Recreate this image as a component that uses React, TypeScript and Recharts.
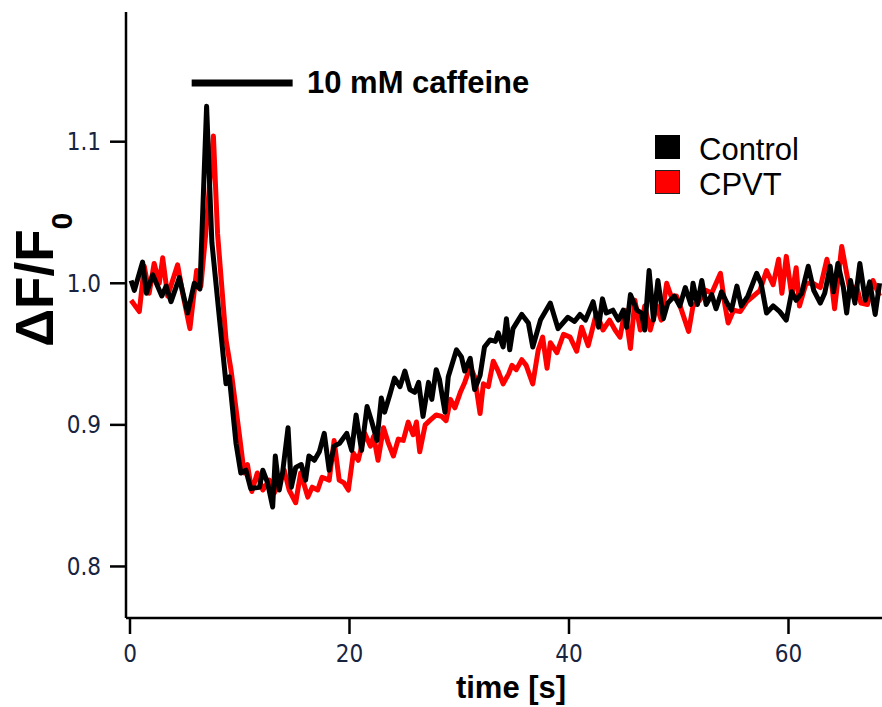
import React from "react";
import { LineChart, Line, XAxis, YAxis, ReferenceLine } from "recharts";

// Control trace (time in s, ΔF/F0)
const controlTime = [
  0.1, 0.4, 1.15, 1.5, 2.07, 2.9, 3.3, 3.74, 4.5, 5.25, 5.86, 6.37, 6.98, 7.46, 8.14, 8.75, 9.05, 9.66,
  10.1, 10.56, 11.0, 11.8, 12.1, 12.54, 13.0, 13.24, 13.6, 13.9, 14.4, 14.7, 15.1, 15.6, 16.0, 16.3,
  16.8, 17.25, 17.7, 18.15, 18.6, 19.1, 19.75, 20.2, 20.6, 21.1, 21.6, 22.0, 22.5, 22.9, 23.2, 23.7,
  24.1, 24.6, 25.05, 25.5, 25.95, 26.3, 26.7, 27.2, 27.5, 27.9, 28.2, 28.7, 29.0, 29.75, 30.2, 30.5,
  31.0, 31.4, 31.9, 32.3, 32.8, 33.3, 33.55, 34.0, 34.3, 34.6, 34.9, 35.7, 36.3, 36.7, 37.4, 38.3,
  39.0, 39.9, 40.5, 41.0, 41.5, 42.2, 42.7, 43.05, 43.4, 44.0, 44.5, 44.95, 45.25, 45.6, 46.2, 46.6,
  46.9, 47.3, 47.7, 48.1, 48.6, 49.0, 49.6, 50.1, 50.6, 51.1, 51.3, 51.7, 52.1, 52.5, 53.0, 53.4,
  53.9, 54.4, 54.8, 55.3, 55.7, 56.3, 57.1, 57.5, 58.0, 58.6, 59.2, 59.8, 60.3, 60.7, 61.2, 61.8,
  62.3, 62.9, 63.3, 63.8, 64.1, 64.5, 65.0, 65.3, 65.65, 66.05, 66.5, 67.0, 67.4, 67.9, 68.3,
];
const controlValue = [
  1.002, 0.995, 1.015, 0.993, 1.006, 0.991, 0.998, 0.987, 1.004, 0.979, 1.0, 0.996, 1.125, 1.029, 0.976, 0.929, 0.934, 0.887,
  0.866, 0.868, 0.855, 0.856, 0.868, 0.859, 0.842, 0.878, 0.854, 0.866, 0.898, 0.856, 0.87, 0.872, 0.861, 0.878,
  0.875, 0.881, 0.894, 0.868, 0.885, 0.887, 0.894, 0.882, 0.907, 0.882, 0.913, 0.903, 0.889, 0.919, 0.909, 0.922,
  0.933, 0.927, 0.938, 0.925, 0.923, 0.93, 0.906, 0.93, 0.918, 0.939, 0.932, 0.909, 0.934, 0.953, 0.948, 0.938,
  0.947, 0.925, 0.935, 0.955, 0.96, 0.959, 0.965, 0.955, 0.975, 0.953, 0.968, 0.978, 0.972, 0.955, 0.974, 0.986,
  0.968, 0.976, 0.973, 0.978, 0.974, 0.987, 0.969, 0.989, 0.979, 0.981, 0.974, 0.981, 0.969, 0.992, 0.981, 0.979,
  0.967, 1.009, 0.974, 1.002, 0.975, 0.986, 0.991, 0.984, 0.997, 0.985, 1.0, 0.985, 1.002, 0.985, 0.992, 0.982,
  0.994, 0.986, 0.981, 0.998, 0.984, 0.991, 1.007, 1.0, 0.979, 0.984, 0.98, 0.974, 0.994, 0.988, 0.993, 1.012,
  0.995, 0.986, 0.993, 1.012, 0.994, 1.014, 0.997, 0.979, 1.002, 0.986, 1.014, 0.988, 1.001, 0.978, 1.0,
];

// CPVT trace
const cpvtTime = [
  0.1, 0.85, 1.3, 1.75, 2.2, 2.67, 2.98, 3.43, 4.34, 4.8, 5.46, 6.07, 6.46, 6.9, 7.6, 7.98, 8.75, 9.2,
  9.95, 10.4, 10.7, 11.1, 11.6, 12.1, 12.7, 13.15, 13.6, 14.05, 14.5, 15.1, 15.55, 16.2, 16.6, 17.1,
  17.5, 18.15, 18.6, 19.06, 19.5, 19.9, 20.35, 20.8, 21.4, 21.9, 22.2, 22.6, 23.1, 23.5, 24.0, 24.45,
  24.9, 25.35, 25.8, 26.1, 26.4, 26.9, 27.3, 27.9, 28.4, 28.8, 29.2, 29.6, 30.1, 30.5, 31.0, 31.4,
  31.9, 32.2, 32.65, 33.1, 33.55, 34.0, 34.5, 34.8, 35.2, 35.7, 36.1, 36.7, 37.2, 37.6, 38.0, 38.3,
  38.9, 39.5, 40.1, 40.7, 41.15, 41.75, 42.5, 43.1, 43.7, 44.2, 44.65, 45.1, 45.6, 46.0, 46.5, 46.9,
  47.4, 48.0, 48.4, 48.9, 49.3, 49.8, 50.25, 50.9, 51.3, 51.9, 52.5, 53.0, 53.8, 54.2, 54.5, 55.0,
  55.6, 56.2, 56.8, 57.4, 58.0, 58.6, 59.1, 59.4, 59.8, 60.3, 60.7, 61.0, 61.6, 62.2, 62.9, 63.5,
  63.9, 64.2, 64.85, 65.3, 65.7, 66.2, 66.6, 67.2, 67.7, 68.3,
];
const cpvtValue = [
  0.988, 0.98, 1.012, 0.993, 1.014, 1.0, 1.018, 0.991, 1.013, 0.993, 0.968, 1.009, 0.998, 1.035, 1.104, 1.035, 0.96, 0.939,
  0.894, 0.866, 0.872, 0.853, 0.866, 0.854, 0.861, 0.852, 0.859, 0.868, 0.854, 0.845, 0.866, 0.849, 0.856, 0.854,
  0.863, 0.861, 0.889, 0.861, 0.859, 0.854, 0.88, 0.875, 0.894, 0.885, 0.892, 0.875, 0.898, 0.888, 0.878, 0.89,
  0.889, 0.902, 0.893, 0.902, 0.881, 0.9, 0.903, 0.907, 0.906, 0.903, 0.918, 0.912, 0.923, 0.93, 0.941, 0.934,
  0.908, 0.929, 0.927, 0.945, 0.938, 0.929, 0.936, 0.942, 0.939, 0.946, 0.942, 0.929, 0.953, 0.962, 0.94, 0.958,
  0.951, 0.964, 0.962, 0.952, 0.969, 0.956, 0.979, 0.967, 0.974, 0.967, 0.962, 0.981, 0.954, 0.988, 0.967, 0.984,
  0.967, 0.984, 0.974, 1.0, 0.991, 0.991, 0.981, 0.966, 0.984, 0.988, 0.995, 0.993, 1.007, 0.985, 0.972, 0.981,
  0.98, 0.987, 0.991, 0.995, 1.009, 0.999, 1.017, 0.993, 1.019, 0.991, 1.011, 0.984, 1.0, 1.0, 0.997, 1.017,
  1.002, 0.982, 1.026, 1.007, 0.991, 0.998, 0.986, 0.985, 1.002, 0.991,
];

// Caffeine application period (s) and its marker level
const caffeinePeriod = [5.62, 14.82];
const caffeineLevel = 1.1415;

const xTicks = [0, 20, 40, 60];
const yTicks = [0.8, 0.9, 1.0, 1.1];

const controlData = controlTime.map((t, i) => ({ t, v: controlValue[i] }));
const cpvtData = cpvtTime.map((t, i) => ({ t, v: cpvtValue[i] }));

const tickFont = {
  fill: "#18243f",
  fontSize: 24,
  fontFamily: "'DejaVu Sans Condensed', 'DejaVu Sans', sans-serif",
};

export default function App() {
  return (
    <div style={{ position: "absolute", left: 0, top: 0, width: 882, height: 707, background: "#fff" }}>
      <LineChart width={882} height={707} margin={{ top: 12, right: 0, bottom: 0, left: 0 }}>
        <XAxis
          type="number"
          dataKey="t"
          domain={[-0.364, 68.52]}
          allowDataOverflow
          ticks={xTicks}
          interval={0}
          height={89}
          tickSize={16}
          tickMargin={11}
          axisLine={{ stroke: "#000", strokeWidth: 2.5 }}
          tickLine={{ stroke: "#000", strokeWidth: 2.5 }}
          tick={tickFont}
        />
        <YAxis
          type="number"
          domain={[0.7636, 1.1916]}
          allowDataOverflow
          ticks={yTicks}
          interval={0}
          width={126}
          tickSize={16}
          tickMargin={9}
          tickFormatter={(v: number) => v.toFixed(1)}
          axisLine={{ stroke: "#000", strokeWidth: 2.5 }}
          tickLine={{ stroke: "#000", strokeWidth: 2.5 }}
          tick={tickFont}
        />
        <ReferenceLine
          segment={[
            { x: caffeinePeriod[0], y: caffeineLevel },
            { x: caffeinePeriod[1], y: caffeineLevel },
          ]}
          stroke="#000"
          strokeWidth={7}
          ifOverflow="visible"
        />
        <Line
          data={cpvtData}
          dataKey="v"
          type="linear"
          stroke="#ff0000"
          strokeWidth={5}
          strokeLinejoin="round"
          dot={false}
          isAnimationActive={false}
        />
        <Line
          data={controlData}
          dataKey="v"
          type="linear"
          stroke="#000000"
          strokeWidth={5}
          strokeLinejoin="round"
          dot={false}
          isAnimationActive={false}
        />
      </LineChart>
      <svg
        width={882}
        height={707}
        style={{ position: "absolute", left: 0, top: 0, pointerEvents: "none" }}
      >
        <g fontFamily="'Liberation Sans', Arial, sans-serif">
          <text x={307} y={93} fontSize={31} fontWeight="bold" fill="#000">
            10 mM caffeine
          </text>
          <text x={511} y={698} fontSize={31} fontWeight="bold" fill="#000" textAnchor="middle">
            time [s]
          </text>
          <text transform="translate(53,347) rotate(-90)" fontSize={53} fontWeight="bold" fill="#000">
            ΔF/F
            <tspan fontSize={30} dy={19}>
              0
            </tspan>
          </text>
          <rect x={655} y={135} width={25} height={24} fill="#000" />
          <rect x={655.5} y={170.5} width={24} height={23} fill="#ff0000" stroke="#222" strokeWidth={1} />
          <text x={699} y={160} fontSize={31} fill="#000">
            Control
          </text>
          <text x={699} y={195} fontSize={31} fill="#000">
            CPVT
          </text>
        </g>
      </svg>
    </div>
  );
}
